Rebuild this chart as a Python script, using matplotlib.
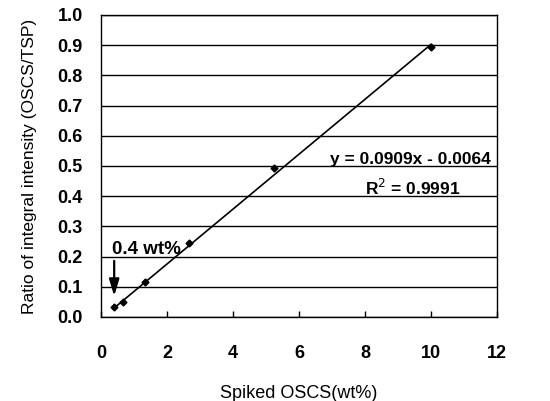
import matplotlib
matplotlib.use("Agg")
import matplotlib.pyplot as plt
import numpy as np

spiked = [0.40, 0.67, 1.33, 2.67, 5.25, 10.0]
ratio = [0.033, 0.051, 0.117, 0.244, 0.492, 0.895]
slope = 0.0909
intercept = -0.0064
eq_text = "y = 0.0909x - 0.0064"
r2_text = "R$^2$ = 0.9991"
xticks = [0, 2, 4, 6, 8, 10, 12]
yticks = [0.0, 0.1, 0.2, 0.3, 0.4, 0.5, 0.6, 0.7, 0.8, 0.9, 1.0]

plt.rcParams['font.family'] = ['Liberation Sans', 'DejaVu Sans']

fig = plt.figure(figsize=(5.5, 4.01), dpi=100)
ax = fig.add_axes([0.1836, 0.2095, 0.72, 0.7531])

ax.set_xlim(0, 12)
ax.set_ylim(0, 1.0)
ax.set_xticks(xticks)
ax.set_yticks(yticks)
ax.set_xticklabels([str(t) for t in xticks], fontweight='bold', fontsize=13)
ax.set_yticklabels([f"{t:.1f}" for t in yticks], fontweight='bold', fontsize=13)
ax.tick_params(axis='x', direction='in', length=4, width=1, pad=20)
ax.tick_params(axis='y', length=0, pad=13)
ax.grid(axis='y', color='black', linewidth=1)
ax.set_axisbelow(True)
for s in ax.spines.values():
    s.set_color('black')
    s.set_linewidth(1)

xs = np.array([min(spiked), max(spiked)])
ax.plot(xs, slope * xs + intercept, color='black', linewidth=1.2, zorder=3)
ax.plot(spiked, ratio, linestyle='none', marker='D', markersize=3.5,
        color='black', zorder=4)

ax.text(6.95, 0.523, eq_text, fontsize=12.5, fontweight='bold', va='center', ha='left')
ax.text(8.0, 0.427, r2_text, fontsize=12.5, fontweight='bold', va='center', ha='left')
ax.text(0.33, 0.225, "0.4 wt%", fontsize=13.5, fontweight='bold', va='center', ha='left')
ax.annotate("", xy=(0.4, 0.06), xytext=(0.4, 0.195),
            arrowprops=dict(arrowstyle='-|>,head_width=0.3,head_length=1.0',
                            color='black', lw=1.6))

ax.set_xlabel("Spiked OSCS(wt%)", fontsize=13, labelpad=17)
ax.set_ylabel("Ratio of integral intensity (OSCS/TSP)", fontsize=12.5, labelpad=15)

fig.savefig("out.png", dpi=100)
